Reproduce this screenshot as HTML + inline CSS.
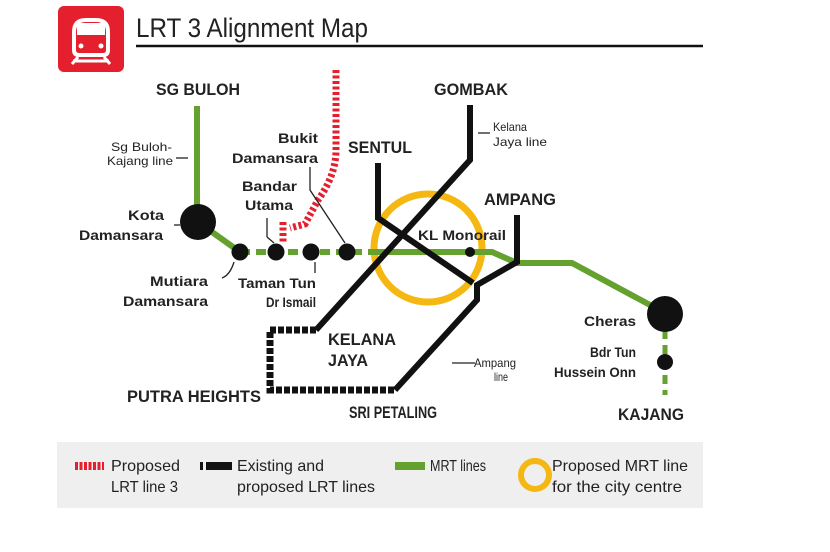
<!DOCTYPE html>
<html><head><meta charset="utf-8"><style>
html,body{margin:0;padding:0;background:#fff;}
svg{display:block}
text{font-family:"Liberation Sans Narrow","Liberation Sans",sans-serif;fill:#222;}
.b{font-weight:bold}
</style></head><body>
<svg width="830" height="552" viewBox="0 0 830 552" xmlns="http://www.w3.org/2000/svg">
<rect width="830" height="552" fill="#fff"/>
<!-- icon -->
<rect x="58" y="6" width="66" height="66" rx="6" fill="#e5202e"/>
<path d="M74 50 V32 Q74 20 86 20 H96 Q108 20 108 32 V50 Q108 55 103 55 H79 Q74 55 74 50Z" fill="none" stroke="#fff" stroke-width="4"/>
<rect x="77" y="23" width="28" height="12" fill="#fff"/>
<circle cx="81" cy="46" r="2.5" fill="#fff"/><circle cx="101" cy="46" r="2.5" fill="#fff"/>
<path d="M78 57 L72 64 M104 57 L110 64 M73 61 H109" stroke="#fff" stroke-width="3"/>
<text x="136" y="37" font-size="27" textLength="232" lengthAdjust="spacingAndGlyphs">LRT 3 Alignment Map</text>
<line x1="136" y1="46" x2="703" y2="46" stroke="#111" stroke-width="2.5"/>

<!-- yellow circle -->
<circle cx="428" cy="248" r="54" fill="none" stroke="#f5b812" stroke-width="7"/>

<!-- green lines -->
<line x1="197" y1="106" x2="197" y2="210" stroke="#64a12e" stroke-width="6"/>
<polyline points="198,222 240,252" fill="none" stroke="#64a12e" stroke-width="6"/>
<line x1="240" y1="252" x2="370" y2="252" stroke="#64a12e" stroke-width="6" stroke-dasharray="10,6"/>
<polyline points="370,252 492,252 517,263 572,263 665,313" fill="none" stroke="#64a12e" stroke-width="6"/>
<line x1="665" y1="330" x2="665" y2="395" stroke="#64a12e" stroke-width="5" stroke-dasharray="9,6"/>

<!-- red dashed -->
<path d="M336 70 V150 Q336 175 318 200 L305 224 L290 228 M283 222 V244" fill="none" stroke="#e5202e" stroke-width="7" stroke-dasharray="3,2.5"/>

<!-- black lines -->
<polyline points="470,105 470,160 316,330" fill="none" stroke="#111" stroke-width="6"/>
<polyline points="316,330 270,330 270,390 395,390" fill="none" stroke="#111" stroke-width="7" stroke-dasharray="6,2"/>
<polyline points="378,163 378,218 473,283" fill="none" stroke="#111" stroke-width="6"/>
<polyline points="517,215 517,262 477,285 477,300 395,390" fill="none" stroke="#111" stroke-width="6"/>

<!-- stations -->
<circle cx="198" cy="222" r="18" fill="#111"/>
<circle cx="240" cy="252" r="8.5" fill="#111"/>
<circle cx="276" cy="252" r="8.5" fill="#111"/>
<circle cx="311" cy="252" r="8.5" fill="#111"/>
<circle cx="347" cy="252" r="8.5" fill="#111"/>
<circle cx="470" cy="252" r="5" fill="#111"/>
<circle cx="665" cy="314" r="18" fill="#111"/>
<circle cx="665" cy="362" r="8" fill="#111"/>

<!-- leader lines -->
<g stroke="#222" stroke-width="1.3" fill="none">
<line x1="176" y1="158" x2="188" y2="158"/>
<line x1="174" y1="225" x2="180" y2="225"/>
<line x1="267" y1="218" x2="267" y2="237" /><line x1="267" y1="237" x2="274" y2="243"/>
<polyline points="310,167 310,190 345,243"/>
<line x1="315" y1="262" x2="315" y2="273"/>
<path d="M234 262 Q230 275 222 278"/>
<line x1="478" y1="133" x2="490" y2="133"/>
<line x1="452" y1="363" x2="475" y2="363"/>
</g>

<!-- labels -->
<g class="b">
<text x="156" y="95" font-size="17" textLength="84" lengthAdjust="spacingAndGlyphs">SG BULOH</text>
<text x="434" y="95" font-size="17" textLength="74" lengthAdjust="spacingAndGlyphs">GOMBAK</text>
<text x="348" y="153" font-size="17" textLength="64" lengthAdjust="spacingAndGlyphs">SENTUL</text>
<text x="484" y="205" font-size="17" textLength="72" lengthAdjust="spacingAndGlyphs">AMPANG</text>
<text x="328" y="345" font-size="17" textLength="68" lengthAdjust="spacingAndGlyphs">KELANA</text>
<text x="328" y="366" font-size="17" textLength="40" lengthAdjust="spacingAndGlyphs">JAYA</text>
<text x="127" y="402" font-size="17" textLength="134" lengthAdjust="spacingAndGlyphs">PUTRA HEIGHTS</text>
<text x="349" y="418" font-size="17" textLength="88" lengthAdjust="spacingAndGlyphs">SRI PETALING</text>
<text x="618" y="420" font-size="17" textLength="66" lengthAdjust="spacingAndGlyphs">KAJANG</text>
<text x="418" y="240" font-size="14" textLength="88" lengthAdjust="spacingAndGlyphs">KL Monorail</text>
<g font-size="14">
<text x="278" y="143" textLength="40" lengthAdjust="spacingAndGlyphs">Bukit</text>
<text x="232" y="163" textLength="86" lengthAdjust="spacingAndGlyphs">Damansara</text>
<text x="242" y="191" textLength="55" lengthAdjust="spacingAndGlyphs">Bandar</text>
<text x="245" y="210" textLength="48" lengthAdjust="spacingAndGlyphs">Utama</text>
<text x="128" y="220" textLength="36" lengthAdjust="spacingAndGlyphs">Kota</text>
<text x="79" y="240" textLength="84" lengthAdjust="spacingAndGlyphs">Damansara</text>
<text x="150" y="286" textLength="58" lengthAdjust="spacingAndGlyphs">Mutiara</text>
<text x="123" y="306" textLength="85" lengthAdjust="spacingAndGlyphs">Damansara</text>
<text x="238" y="288" textLength="78" lengthAdjust="spacingAndGlyphs">Taman Tun</text>
<text x="266" y="307" textLength="50" lengthAdjust="spacingAndGlyphs">Dr Ismail</text>
<text x="584" y="326" textLength="52" lengthAdjust="spacingAndGlyphs">Cheras</text>
<text x="590" y="357" textLength="46" lengthAdjust="spacingAndGlyphs">Bdr Tun</text>
<text x="554" y="377" textLength="82" lengthAdjust="spacingAndGlyphs">Hussein Onn</text>
</g>
</g>
<g font-size="12">
<text x="111" y="151" textLength="61" lengthAdjust="spacingAndGlyphs">Sg Buloh-</text>
<text x="107" y="165" textLength="66" lengthAdjust="spacingAndGlyphs">Kajang line</text>
<text x="493" y="131" textLength="34" lengthAdjust="spacingAndGlyphs">Kelana</text>
<text x="493" y="146" textLength="54" lengthAdjust="spacingAndGlyphs">Jaya line</text>
<text x="474" y="367" textLength="42" lengthAdjust="spacingAndGlyphs">Ampang</text>
<text x="494" y="381" textLength="14" lengthAdjust="spacingAndGlyphs">line</text>
</g>

<!-- legend -->
<rect x="57" y="442" width="646" height="66" fill="#efefef"/>
<line x1="75" y1="466" x2="104" y2="466" stroke="#e5202e" stroke-width="8" stroke-dasharray="3,1.5"/>
<line x1="200" y1="466" x2="203" y2="466" stroke="#111" stroke-width="8"/>
<line x1="206" y1="466" x2="232" y2="466" stroke="#111" stroke-width="8"/>
<line x1="395" y1="466" x2="425" y2="466" stroke="#64a12e" stroke-width="8"/>
<circle cx="535" cy="475" r="14" fill="none" stroke="#f5b812" stroke-width="6"/>
<g font-size="16">
<text x="111" y="471" textLength="69" lengthAdjust="spacingAndGlyphs">Proposed</text>
<text x="111" y="492" textLength="67" lengthAdjust="spacingAndGlyphs">LRT line 3</text>
<text x="237" y="471" textLength="87" lengthAdjust="spacingAndGlyphs">Existing and</text>
<text x="237" y="492" textLength="138" lengthAdjust="spacingAndGlyphs">proposed LRT lines</text>
<text x="430" y="471" textLength="56" lengthAdjust="spacingAndGlyphs">MRT lines</text>
<text x="552" y="471" textLength="136" lengthAdjust="spacingAndGlyphs">Proposed MRT line</text>
<text x="552" y="492" textLength="130" lengthAdjust="spacingAndGlyphs">for the city centre</text>
</g>
</svg>
</body></html>
